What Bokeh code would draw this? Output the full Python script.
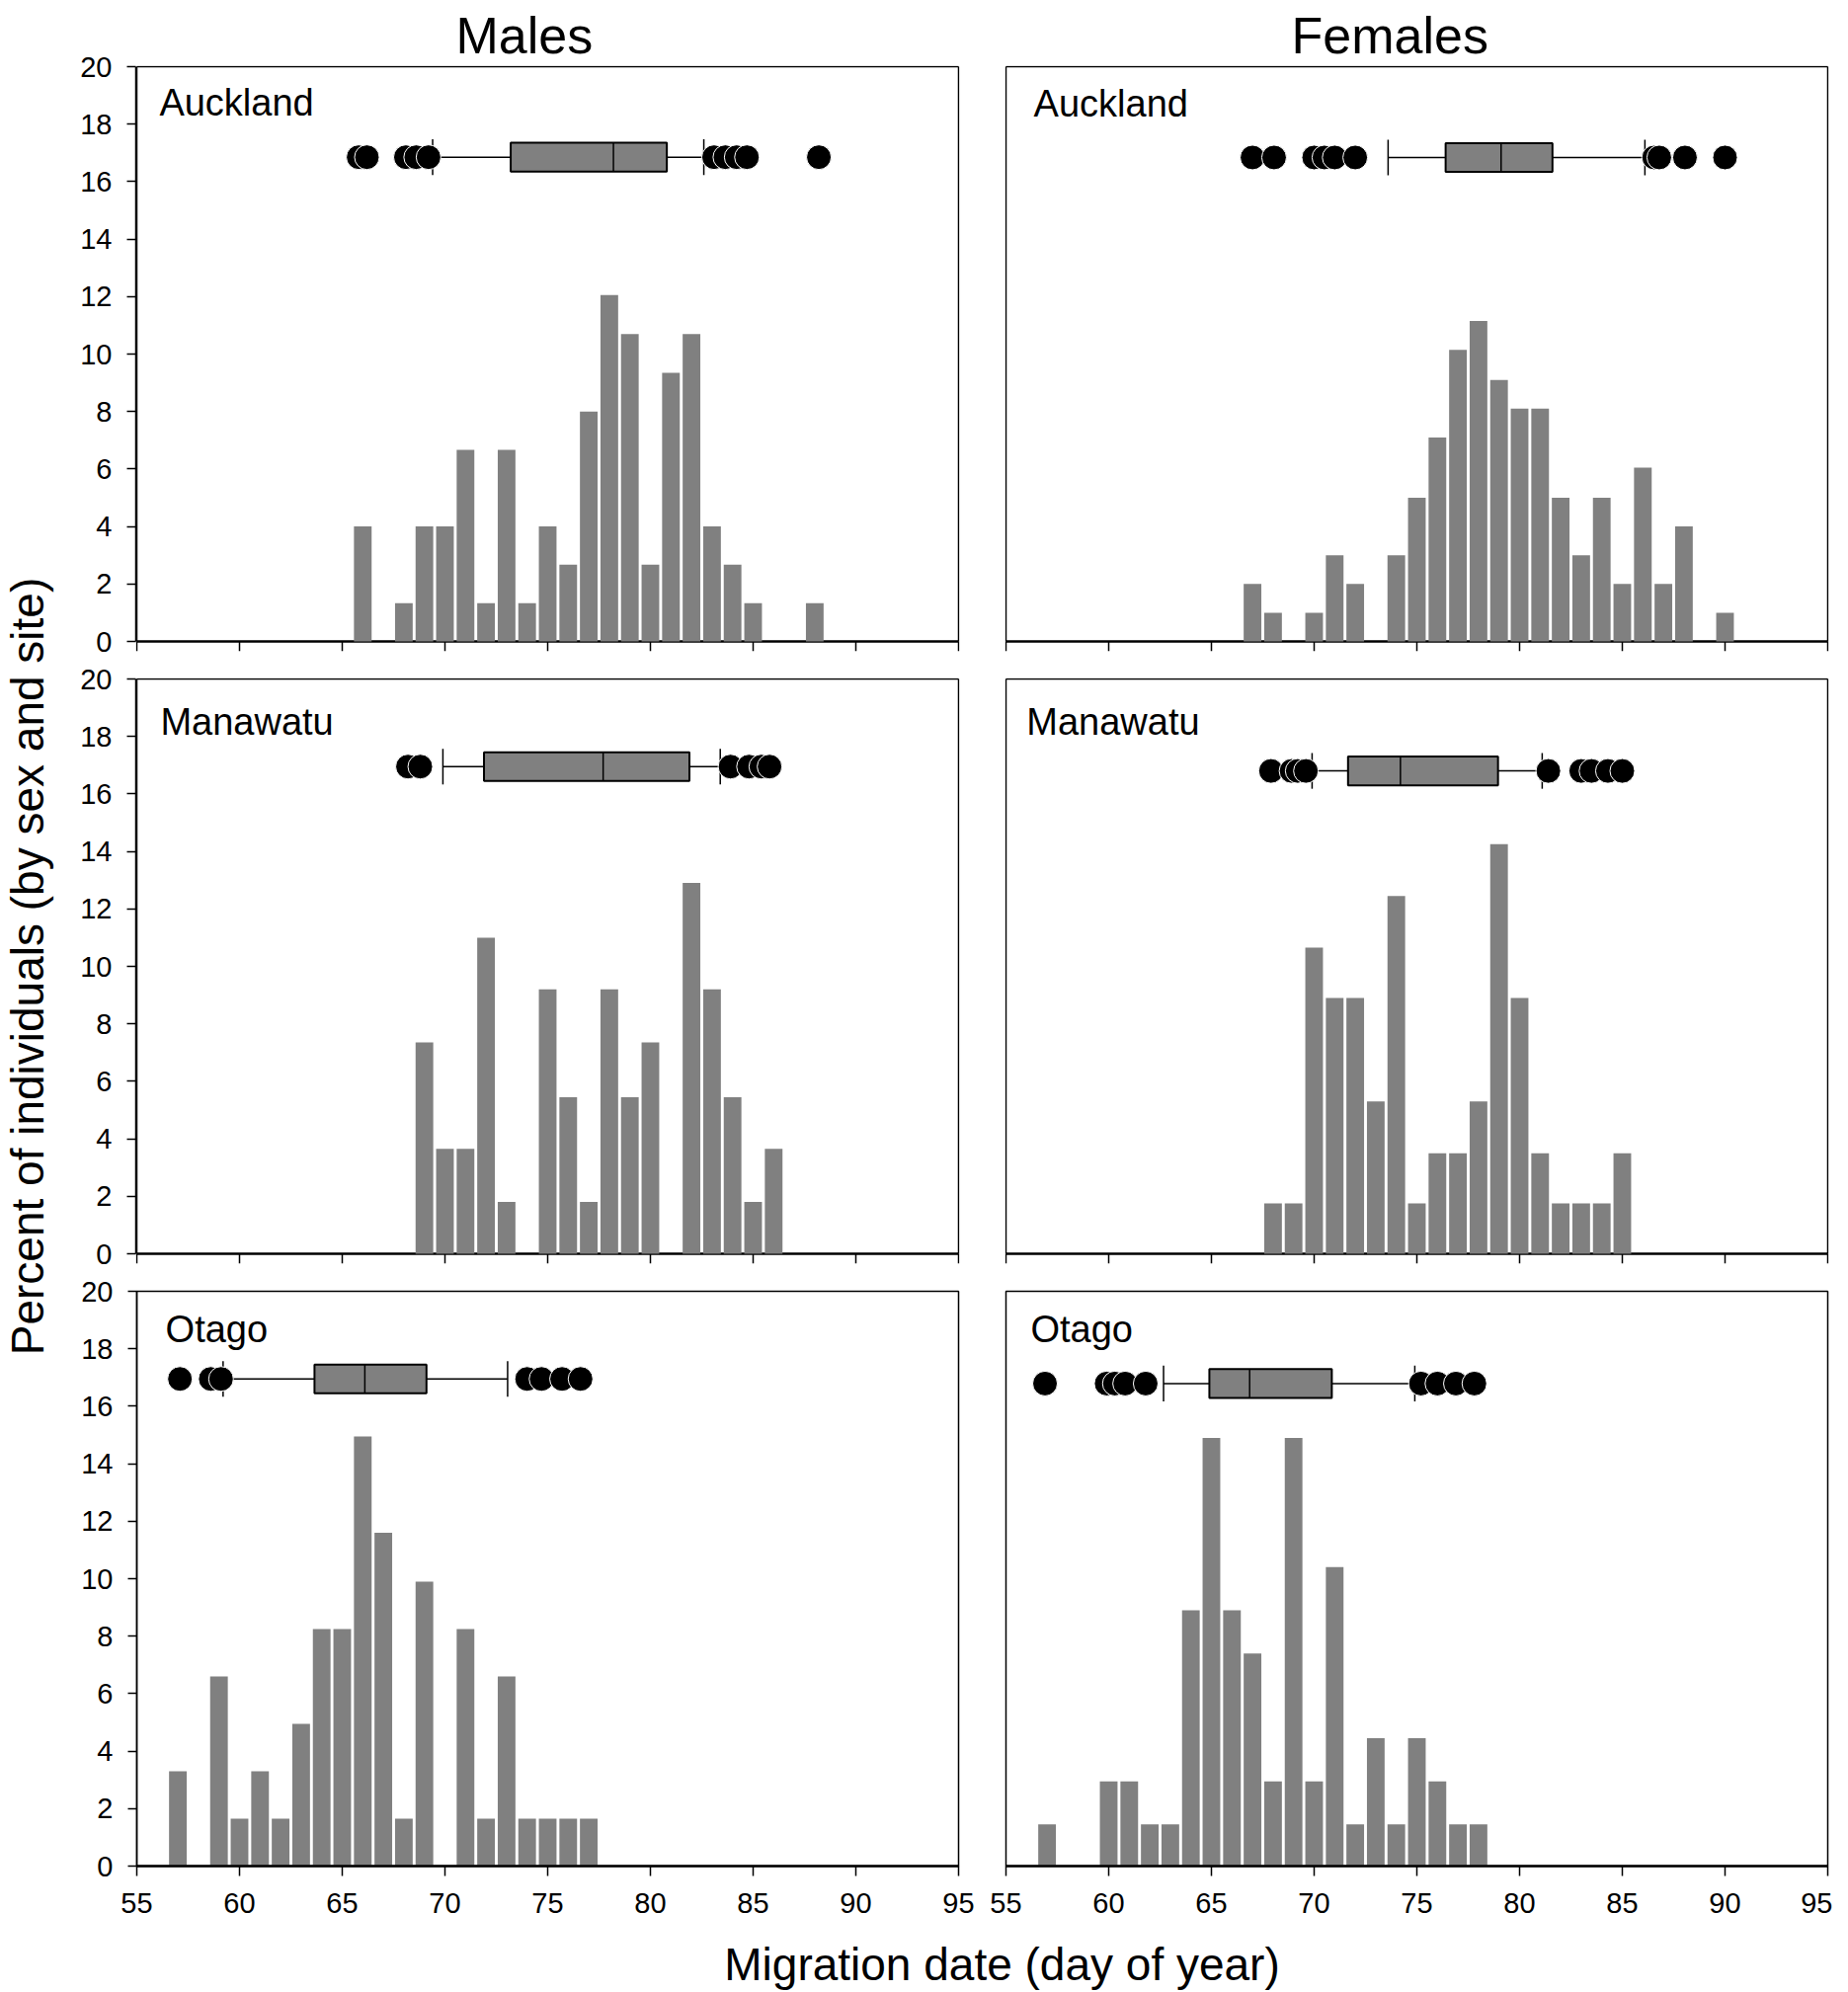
import math
from bokeh.plotting import figure
from bokeh.models import Range1d, FixedTicker, Label
from bokeh.layouts import row, column
from bokeh.embed import file_html
from bokeh.resources import INLINE

FONT = "Liberation Sans"
BAR_COLOR = "#808080"

# ---------------- data ----------------
x_ticks = [55, 60, 65, 70, 75, 80, 85, 90, 95]
y_ticks = [0, 2, 4, 6, 8, 10, 12, 14, 16, 18, 20]
col_titles = ["Males", "Females"]
sites = ["Auckland", "Auckland", "Manawatu", "Manawatu", "Otago", "Otago"]

male_auckland_days = [66, 68, 69, 70, 71, 72, 73, 74, 75, 76, 77, 78, 79, 80, 81, 82, 83, 84, 85, 88]
male_auckland_pct = [4.0, 1.33, 4.0, 4.0, 6.67, 1.33, 6.67, 1.33, 4.0, 2.67, 8.0, 12.05, 10.7, 2.67, 9.35, 10.7, 4.0, 2.67, 1.33, 1.33]

female_auckland_days = [67, 68, 70, 71, 72, 74, 75, 76, 77, 78, 79, 80, 81, 82, 83, 84, 85, 86, 87, 88, 90]
female_auckland_pct = [2.0, 1.0, 1.0, 3.0, 2.0, 3.0, 5.0, 7.1, 10.15, 11.15, 9.1, 8.1, 8.1, 5.0, 3.0, 5.0, 2.0, 6.05, 2.0, 4.0, 1.0]

male_manawatu_days = [69, 70, 71, 72, 73, 75, 76, 77, 78, 79, 80, 82, 83, 84, 85, 86]
male_manawatu_pct = [7.35, 3.65, 3.65, 11.0, 1.8, 9.2, 5.45, 1.8, 9.2, 5.45, 7.35, 12.9, 9.2, 5.45, 1.8, 3.65]

female_manawatu_days = [68, 69, 70, 71, 72, 73, 74, 75, 76, 77, 78, 79, 80, 81, 82, 83, 84, 85]
female_manawatu_pct = [1.75, 1.75, 10.65, 8.9, 8.9, 5.3, 12.45, 1.75, 3.5, 3.5, 5.3, 14.25, 8.9, 3.5, 1.75, 1.75, 1.75, 3.5]

male_otago_days = [57, 59, 60, 61, 62, 63, 64, 65, 66, 67, 68, 69, 71, 72, 73, 74, 75, 76, 77]
male_otago_pct = [3.3, 6.6, 1.65, 3.3, 1.65, 4.95, 8.25, 8.25, 14.95, 11.6, 1.65, 9.9, 8.25, 1.65, 6.6, 1.65, 1.65, 1.65, 1.65]

female_otago_days = [57, 60, 61, 62, 63, 64, 65, 66, 67, 68, 69, 70, 71, 72, 73, 74, 75, 76, 77, 78]
female_otago_pct = [1.45, 2.95, 2.95, 1.45, 1.45, 8.9, 14.9, 8.9, 7.4, 2.95, 14.9, 2.95, 10.4, 1.45, 4.45, 1.45, 4.45, 2.95, 1.45, 1.45]

# box plot summaries, panel order: M-Auck, F-Auck, M-Mana, F-Mana, M-Otago, F-Otago
box_q1 = [73.2, 76.4, 71.9, 71.65, 63.65, 64.9]
box_median = [78.2, 79.1, 77.7, 74.2, 66.1, 66.86]
box_q3 = [80.8, 81.6, 81.9, 78.95, 69.1, 70.86]
whisker_low = [69.4, 73.6, 69.9, 69.9, 59.2, 62.67]
whisker_high = [82.6, 86.1, 83.4, 81.1, 73.05, 74.9]
box_level = [16.85, 16.84, 16.95, 16.8, 16.95, 16.79]

outliers_male_auckland = [65.8, 66.2, 68.1, 68.6, 69.2, 83.1, 83.65, 84.2, 84.7, 88.2]
outliers_female_auckland = [67.0, 68.05, 70.0, 70.5, 71.0, 72.0, 86.55, 86.8, 88.05, 90.0]
outliers_male_manawatu = [68.2, 68.8, 83.9, 84.8, 85.4, 85.8]
outliers_female_manawatu = [67.9, 68.9, 69.2, 69.6, 81.4, 83.0, 83.5, 84.3, 85.0]
outliers_male_otago = [57.1, 58.6, 59.1, 74.0, 74.7, 75.7, 76.6]
outliers_female_otago = [56.9, 59.9, 60.3, 60.8, 61.8, 75.2, 76.0, 76.9, 77.8]

panel_days = [male_auckland_days, female_auckland_days, male_manawatu_days,
              female_manawatu_days, male_otago_days, female_otago_days]
panel_pct = [male_auckland_pct, female_auckland_pct, male_manawatu_pct,
             female_manawatu_pct, male_otago_pct, female_otago_pct]
panel_outliers = [outliers_male_auckland, outliers_female_auckland, outliers_male_manawatu,
                  outliers_female_manawatu, outliers_male_otago, outliers_female_otago]

# ---------------- layout / style ----------------
FRAME_W, FRAME_H = 832, 582
PX_X = FRAME_W / 40.0      # px per day
PX_Y = FRAME_H / 20.0      # px per percent
TICK = 10                  # x tick length (px)
TICK_FONT = "29px"
site_pos = [(56.1, 18.76), (56.35, 18.7), (56.15, 18.5), (56.0, 18.5), (56.4, 18.68), (56.2, 18.68)]
title_offset = [324, 290]


def style_yaxis(p):
    ya = p.yaxis[0]
    ya.ticker = FixedTicker(ticks=y_ticks)
    ya.bounds = (0, 20)
    ya.major_tick_out = 9
    ya.major_tick_in = 0
    ya.minor_tick_out = 0
    ya.minor_tick_in = 0
    ya.axis_line_width = 1.5
    ya.axis_line_color = "black"
    ya.major_tick_line_width = 1.5
    ya.major_tick_line_color = "black"
    ya.major_label_text_font = FONT
    ya.major_label_text_font_size = TICK_FONT
    ya.major_label_text_color = "black"
    ya.major_label_standoff = 15


def make_panel(i):
    left = (i % 2 == 0)
    r = i // 2
    bottom_row = (r == 2)
    if bottom_row:
        p = figure(frame_width=FRAME_W, frame_height=FRAME_H,
                   x_range=Range1d(55, 95), y_range=Range1d(0, 20),
                   output_backend="svg", toolbar_location=None,
                   y_axis_location="left" if left else None,
                   min_border_left=70 if left else 24,
                   min_border_right=24 if left else 5,
                   min_border_top=17, min_border_bottom=60)
        p.outline_line_color = "black"
        p.outline_line_width = 1.5
        xa = p.xaxis[0]
        xa.ticker = FixedTicker(ticks=x_ticks)
        xa.major_tick_out = TICK
        xa.major_tick_in = 0
        xa.minor_tick_out = 0
        xa.minor_tick_in = 0
        xa.axis_line_width = 2.5
        xa.axis_line_color = "black"
        xa.major_tick_line_width = 1.5
        xa.major_tick_line_color = "black"
        xa.major_label_text_font = FONT
        xa.major_label_text_font_size = TICK_FONT
        xa.major_label_text_color = "black"
        xa.major_label_standoff = 17
    else:
        # frame extended by the tick length below 0 and 1px on the other sides,
        # so that the downward ticks can be drawn inside the plotting area
        dx = 1.0 / PX_X
        dy_top = 1.0 / PX_Y
        dy_bot = TICK / PX_Y
        p = figure(frame_width=FRAME_W + 2, frame_height=FRAME_H + 1 + TICK,
                   x_range=Range1d(55 - dx, 95 + dx), y_range=Range1d(-dy_bot, 20 + dy_top),
                   output_backend="svg", toolbar_location=None,
                   x_axis_location=None,
                   y_axis_location="left" if left else None,
                   min_border_left=69 if left else 23,
                   min_border_right=23 if left else 4,
                   min_border_top=66 if r == 0 else 16, min_border_bottom=11)
        p.outline_line_color = None
        # panel box
        p.segment(x0=[55, 95, 55], y0=[20, 0, 0], x1=[95, 95, 55], y1=[20, 20, 20],
                  line_color="black", line_width=1.5)
        p.segment(x0=[55], y0=[0], x1=[95], y1=[0], line_color="black", line_width=2.5)
        # x ticks pointing down
        p.segment(x0=x_ticks, y0=[0] * len(x_ticks), x1=x_ticks, y1=[-dy_bot] * len(x_ticks),
                  line_color="black", line_width=1.5)
        if r == 0:
            p.title.text = col_titles[i % 2]
            p.title.align = "left"
            p.title.offset = title_offset[i % 2]
            p.title.vertical_align = "top"
            p.title.text_font = FONT
            p.title.text_font_size = "52px"
            p.title.text_font_style = "normal"
            p.title.text_color = "black"
            p.title.standoff = 0

    p.xgrid.visible = False
    p.ygrid.visible = False
    p.background_fill_color = "white"
    p.border_fill_color = "white"
    if left:
        style_yaxis(p)

    # histogram bars
    p.vbar(x=panel_days[i], top=panel_pct[i], width=0.86, bottom=0,
           fill_color=BAR_COLOR, line_color=None)

    # box plot
    yb = box_level[i]
    p.segment(x0=[whisker_low[i], box_q3[i]], y0=[yb, yb],
              x1=[box_q1[i], whisker_high[i]], y1=[yb, yb],
              line_color="black", line_width=1.5)
    p.segment(x0=[whisker_low[i], whisker_high[i]], y0=[yb - 0.62, yb - 0.62],
              x1=[whisker_low[i], whisker_high[i]], y1=[yb + 0.62, yb + 0.62],
              line_color="black", line_width=1.5)
    p.quad(left=[box_q1[i]], right=[box_q3[i]], bottom=[yb - 0.5], top=[yb + 0.5],
           fill_color=BAR_COLOR, line_color="black", line_width=2)
    p.segment(x0=[box_median[i]], y0=[yb - 0.5], x1=[box_median[i]], y1=[yb + 0.5],
              line_color="black", line_width=1.5)
    outs = panel_outliers[i]
    p.scatter(x=outs, y=[yb] * len(outs), marker="circle", size=25,
              fill_color="black", line_color="white", line_width=1)

    sx, sy = site_pos[i]
    p.add_layout(Label(x=sx, y=sy, text=sites[i], text_font=FONT, text_font_size="38px",
                       text_color="black", text_align="left", text_baseline="middle"))
    return p


panels = [make_panel(i) for i in range(6)]

YLAB_W = 68
TOTAL_H = 2015
GRID_W = 1795

ylab = figure(width=YLAB_W, height=TOTAL_H, x_range=Range1d(0, YLAB_W), y_range=Range1d(TOTAL_H, 0),
              output_backend="svg", toolbar_location=None,
              x_axis_location=None, y_axis_location=None, min_border=0)
ylab.outline_line_color = None
ylab.xgrid.visible = False
ylab.ygrid.visible = False
ylab.add_layout(Label(x=27, y=978, text="Percent of individuals (by sex and site)",
                      text_font=FONT, text_font_size="46px", text_color="black",
                      angle=math.pi / 2, text_align="center", text_baseline="middle"))

xlab = figure(width=GRID_W, height=66, x_range=Range1d(YLAB_W, YLAB_W + GRID_W), y_range=Range1d(66, 0),
              output_backend="svg", toolbar_location=None,
              x_axis_location=None, y_axis_location=None, min_border=0)
xlab.outline_line_color = None
xlab.xgrid.visible = False
xlab.ygrid.visible = False
xlab.add_layout(Label(x=1014, y=39, text="Migration date (day of year)",
                      text_font=FONT, text_font_size="46px", text_color="black",
                      text_align="center", text_baseline="middle"))

grid = column(row(panels[0], panels[1]), row(panels[2], panels[3]),
              row(panels[4], panels[5]), xlab)
layout = row(ylab, grid)

open("out.html", "w").write(file_html(layout, INLINE))
